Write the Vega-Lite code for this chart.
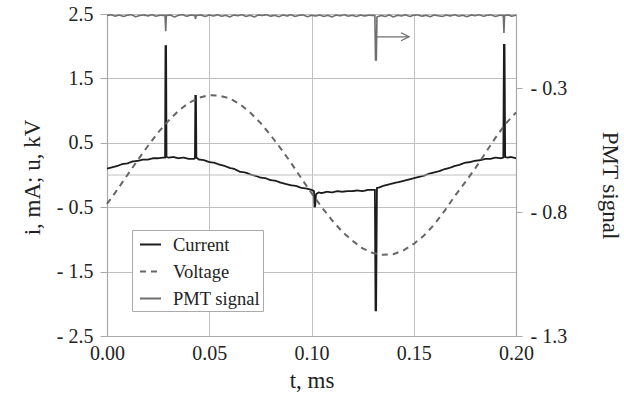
{
  "$schema": "https://vega.github.io/schema/vega-lite/v6.json",
  "width": 409,
  "height": 322,
  "autosize": {"type": "none"},
  "padding": {"left": 107, "top": 14, "right": 108, "bottom": 62},
  "background": "white",
  "config": {
    "view": {"stroke": null},
    "font": "Liberation Serif",
    "axis": {
      "labelFont": "Liberation Serif",
      "titleFont": "Liberation Serif",
      "labelFontSize": 20,
      "titleFontSize": 23,
      "labelColor": "#222222",
      "titleColor": "#222222",
      "titleFontWeight": "normal",
      "gridColor": "#c0c0c0",
      "gridWidth": 1,
      "domainColor": "#a8a8a8",
      "domainWidth": 1.2,
      "tickColor": "#a8a8a8",
      "labelFlush": false,
      "labelOverlap": false,
      "labelBound": false
    },
    "axisX": {"ticks": false, "tickSize": 0},
    "legend": {
      "orient": "none",
      "padding": 3,
      "symbolOffset": 4,
      "symbolType": "stroke",
      "symbolSize": 441,
      "symbolStrokeWidth": 2,
      "labelFont": "Liberation Serif",
      "labelFontSize": 18.5,
      "labelColor": "#222222",
      "labelOffset": 11,
      "rowPadding": 6,
      "strokeColor": "#aaaaaa",
      "fillColor": "white",
      "cornerRadius": 0
    }
  },
  "datasets": {
    "current": [
      {"t": 0.0000, "i": 0.10}, {"t": 0.0025, "i": 0.12}, {"t": 0.0050, "i": 0.14}, {"t": 0.0075, "i": 0.17},
      {"t": 0.0100, "i": 0.18}, {"t": 0.0125, "i": 0.21}, {"t": 0.0150, "i": 0.22}, {"t": 0.0175, "i": 0.24},
      {"t": 0.0200, "i": 0.24}, {"t": 0.0225, "i": 0.26}, {"t": 0.0250, "i": 0.26}, {"t": 0.0275, "i": 0.27},
      {"t": 0.0284, "i": 0.27}, {"t": 0.0286, "i": 2.00}, {"t": 0.0289, "i": 2.00}, {"t": 0.0291, "i": 0.28},
      {"t": 0.0300, "i": 0.27}, {"t": 0.0325, "i": 0.28}, {"t": 0.0350, "i": 0.26}, {"t": 0.0375, "i": 0.27},
      {"t": 0.0400, "i": 0.25}, {"t": 0.0425, "i": 0.25}, {"t": 0.0430, "i": 0.26}, {"t": 0.0432, "i": 1.23},
      {"t": 0.0435, "i": 1.23}, {"t": 0.0437, "i": 0.27}, {"t": 0.0450, "i": 0.24}, {"t": 0.0475, "i": 0.23},
      {"t": 0.0500, "i": 0.20}, {"t": 0.0525, "i": 0.19}, {"t": 0.0550, "i": 0.16}, {"t": 0.0575, "i": 0.14},
      {"t": 0.0600, "i": 0.11}, {"t": 0.0625, "i": 0.09}, {"t": 0.0650, "i": 0.05}, {"t": 0.0675, "i": 0.04},
      {"t": 0.0700, "i": 0.01}, {"t": 0.0725, "i": -0.01}, {"t": 0.0750, "i": -0.04}, {"t": 0.0775, "i": -0.05},
      {"t": 0.0800, "i": -0.08}, {"t": 0.0825, "i": -0.09}, {"t": 0.0850, "i": -0.12}, {"t": 0.0875, "i": -0.14},
      {"t": 0.0900, "i": -0.16}, {"t": 0.0925, "i": -0.17}, {"t": 0.0950, "i": -0.20}, {"t": 0.0975, "i": -0.21},
      {"t": 0.1000, "i": -0.23}, {"t": 0.1012, "i": -0.25}, {"t": 0.1015, "i": -0.50}, {"t": 0.1018, "i": -0.48},
      {"t": 0.1022, "i": -0.30}, {"t": 0.1035, "i": -0.27}, {"t": 0.1050, "i": -0.28}, {"t": 0.1075, "i": -0.26},
      {"t": 0.1100, "i": -0.27}, {"t": 0.1125, "i": -0.25}, {"t": 0.1150, "i": -0.26}, {"t": 0.1175, "i": -0.25},
      {"t": 0.1200, "i": -0.25}, {"t": 0.1225, "i": -0.24}, {"t": 0.1250, "i": -0.25}, {"t": 0.1275, "i": -0.23},
      {"t": 0.1300, "i": -0.23}, {"t": 0.1310, "i": -0.23}, {"t": 0.1313, "i": -2.10}, {"t": 0.1316, "i": -2.10},
      {"t": 0.1320, "i": -0.20}, {"t": 0.1335, "i": -0.19}, {"t": 0.1350, "i": -0.17}, {"t": 0.1375, "i": -0.15},
      {"t": 0.1400, "i": -0.13}, {"t": 0.1425, "i": -0.11}, {"t": 0.1450, "i": -0.09}, {"t": 0.1475, "i": -0.07},
      {"t": 0.1500, "i": -0.05}, {"t": 0.1525, "i": -0.03}, {"t": 0.1550, "i": -0.01}, {"t": 0.1575, "i": 0.02},
      {"t": 0.1600, "i": 0.04}, {"t": 0.1625, "i": 0.06}, {"t": 0.1650, "i": 0.09}, {"t": 0.1675, "i": 0.11},
      {"t": 0.1700, "i": 0.14}, {"t": 0.1725, "i": 0.16}, {"t": 0.1750, "i": 0.19}, {"t": 0.1775, "i": 0.20},
      {"t": 0.1800, "i": 0.22}, {"t": 0.1825, "i": 0.23}, {"t": 0.1850, "i": 0.25}, {"t": 0.1875, "i": 0.25},
      {"t": 0.1900, "i": 0.27}, {"t": 0.1925, "i": 0.26}, {"t": 0.1938, "i": 0.27}, {"t": 0.1941, "i": 2.02},
      {"t": 0.1944, "i": 2.02}, {"t": 0.1947, "i": 0.28}, {"t": 0.1960, "i": 0.27}, {"t": 0.1975, "i": 0.28},
      {"t": 0.2000, "i": 0.26}
    ],
    "voltage": [
      {"t": 0.000, "u": -0.45}, {"t": 0.005, "u": -0.23}, {"t": 0.010, "u": 0.00}, {"t": 0.015, "u": 0.23},
      {"t": 0.020, "u": 0.45}, {"t": 0.025, "u": 0.66}, {"t": 0.030, "u": 0.84}, {"t": 0.035, "u": 1.00},
      {"t": 0.040, "u": 1.12}, {"t": 0.045, "u": 1.20}, {"t": 0.050, "u": 1.24}, {"t": 0.055, "u": 1.23},
      {"t": 0.060, "u": 1.19}, {"t": 0.065, "u": 1.10}, {"t": 0.070, "u": 0.97}, {"t": 0.075, "u": 0.81},
      {"t": 0.080, "u": 0.62}, {"t": 0.085, "u": 0.41}, {"t": 0.090, "u": 0.19}, {"t": 0.095, "u": -0.05},
      {"t": 0.100, "u": -0.28}, {"t": 0.105, "u": -0.50}, {"t": 0.110, "u": -0.70}, {"t": 0.115, "u": -0.88},
      {"t": 0.120, "u": -1.02}, {"t": 0.125, "u": -1.14}, {"t": 0.130, "u": -1.21}, {"t": 0.135, "u": -1.24},
      {"t": 0.140, "u": -1.23}, {"t": 0.145, "u": -1.17}, {"t": 0.150, "u": -1.07}, {"t": 0.155, "u": -0.94},
      {"t": 0.160, "u": -0.77}, {"t": 0.165, "u": -0.56}, {"t": 0.170, "u": -0.33}, {"t": 0.175, "u": -0.12},
      {"t": 0.180, "u": 0.10}, {"t": 0.185, "u": 0.34}, {"t": 0.190, "u": 0.58}, {"t": 0.195, "u": 0.80},
      {"t": 0.200, "u": 0.97}
    ],
    "pmt": [
      {"t": 0.000, "p": -0.006}, {"t": 0.002, "p": -0.003}, {"t": 0.004, "p": -0.009}, {"t": 0.006, "p": -0.004}, {"t": 0.008, "p": -0.010},
      {"t": 0.010, "p": -0.005}, {"t": 0.012, "p": -0.003}, {"t": 0.014, "p": -0.011}, {"t": 0.016, "p": -0.006}, {"t": 0.018, "p": -0.004},
      {"t": 0.020, "p": -0.008}, {"t": 0.022, "p": -0.003}, {"t": 0.024, "p": -0.009}, {"t": 0.026, "p": -0.005}, {"t": 0.0284, "p": -0.006},
      {"t": 0.0287, "p": -0.070}, {"t": 0.0290, "p": -0.006}, {"t": 0.031, "p": -0.004}, {"t": 0.033, "p": -0.012}, {"t": 0.035, "p": -0.005},
      {"t": 0.037, "p": -0.003}, {"t": 0.039, "p": -0.009}, {"t": 0.041, "p": -0.004}, {"t": 0.0430, "p": -0.006}, {"t": 0.0433, "p": -0.020},
      {"t": 0.0436, "p": -0.006}, {"t": 0.046, "p": -0.004}, {"t": 0.048, "p": -0.010}, {"t": 0.050, "p": -0.004}, {"t": 0.052, "p": -0.008},
      {"t": 0.054, "p": -0.003}, {"t": 0.056, "p": -0.009}, {"t": 0.058, "p": -0.005}, {"t": 0.060, "p": -0.012}, {"t": 0.062, "p": -0.004},
      {"t": 0.064, "p": -0.007}, {"t": 0.066, "p": -0.003}, {"t": 0.068, "p": -0.010}, {"t": 0.070, "p": -0.005}, {"t": 0.072, "p": -0.012},
      {"t": 0.074, "p": -0.004}, {"t": 0.076, "p": -0.006}, {"t": 0.078, "p": -0.003}, {"t": 0.080, "p": -0.009}, {"t": 0.082, "p": -0.005},
      {"t": 0.084, "p": -0.011}, {"t": 0.086, "p": -0.004}, {"t": 0.088, "p": -0.008}, {"t": 0.090, "p": -0.003}, {"t": 0.092, "p": -0.010},
      {"t": 0.094, "p": -0.005}, {"t": 0.096, "p": -0.004}, {"t": 0.098, "p": -0.011}, {"t": 0.100, "p": -0.005}, {"t": 0.102, "p": -0.008},
      {"t": 0.104, "p": -0.004}, {"t": 0.106, "p": -0.010}, {"t": 0.108, "p": -0.005}, {"t": 0.110, "p": -0.012}, {"t": 0.112, "p": -0.004},
      {"t": 0.114, "p": -0.007}, {"t": 0.116, "p": -0.003}, {"t": 0.118, "p": -0.009}, {"t": 0.120, "p": -0.005}, {"t": 0.122, "p": -0.010},
      {"t": 0.124, "p": -0.004}, {"t": 0.126, "p": -0.008}, {"t": 0.128, "p": -0.005}, {"t": 0.1310, "p": -0.006}, {"t": 0.1313, "p": -0.186},
      {"t": 0.1317, "p": -0.186}, {"t": 0.1320, "p": -0.012}, {"t": 0.134, "p": -0.006}, {"t": 0.136, "p": -0.010}, {"t": 0.138, "p": -0.004},
      {"t": 0.140, "p": -0.012}, {"t": 0.142, "p": -0.005}, {"t": 0.144, "p": -0.008}, {"t": 0.146, "p": -0.003}, {"t": 0.148, "p": -0.010},
      {"t": 0.150, "p": -0.005}, {"t": 0.152, "p": -0.004}, {"t": 0.154, "p": -0.009}, {"t": 0.156, "p": -0.005}, {"t": 0.158, "p": -0.011},
      {"t": 0.160, "p": -0.004}, {"t": 0.162, "p": -0.007}, {"t": 0.164, "p": -0.010}, {"t": 0.166, "p": -0.004}, {"t": 0.168, "p": -0.008},
      {"t": 0.170, "p": -0.003}, {"t": 0.172, "p": -0.009}, {"t": 0.174, "p": -0.005}, {"t": 0.176, "p": -0.011}, {"t": 0.178, "p": -0.004},
      {"t": 0.180, "p": -0.007}, {"t": 0.182, "p": -0.003}, {"t": 0.184, "p": -0.009}, {"t": 0.186, "p": -0.005}, {"t": 0.188, "p": -0.004},
      {"t": 0.190, "p": -0.010}, {"t": 0.1920, "p": -0.005}, {"t": 0.1938, "p": -0.006}, {"t": 0.1941, "p": -0.077}, {"t": 0.1944, "p": -0.006},
      {"t": 0.196, "p": -0.004}, {"t": 0.198, "p": -0.009}, {"t": 0.200, "p": -0.005}
    ],
    "zero": [{"v": 0}],
    "arrow": [{"t0": 0.1315, "t1": 0.1477, "p": -0.092}]
  },
  "layer": [
    {
      "layer": [
        {
          "data": {"name": "current"},
          "transform": [{"calculate": "'Current'", "as": "series"}],
          "mark": {"type": "line", "strokeWidth": 1.8},
          "encoding": {
            "x": {"field": "t", "type": "quantitative", "scale": {"domain": [0, 0.2], "nice": false, "zero": false},
              "axis": {"values": [0, 0.05, 0.1, 0.15, 0.2], "format": ".2f", "grid": true, "ticks": false, "tickSize": 0,
                "labelPadding": 7, "labelFlush": false, "domain": true, "title": "t, ms", "titleBaseline": "alphabetic", "titleY": 51, "titleX": 204.5}},
            "y": {"field": "i", "type": "quantitative", "scale": {"domain": [-2.5, 2.5], "nice": false},
              "axis": {"orient": "left", "values": [-2.5, -1.5, -0.5, 0.5, 1.5, 2.5],
                "labelExpr": "datum.value < 0 ? '- ' + format(-datum.value, '.1f') : format(datum.value, '.1f')",
                "grid": true, "tickSize": 7, "labelPadding": 7, "domain": true,
                "title": "i, mA; u, kV", "titleAngle": 270, "titleBaseline": "alphabetic", "titleAlign": "center",
                "titleX": -68, "titleY": 163}},
            "color": {"field": "series", "type": "nominal",
              "scale": {"domain": ["Current", "Voltage", "PMT signal"], "range": ["#1c1c1c", "#666666", "#6e6e6e"]},
              "legend": {"title": null, "orient": "none", "legendX": 25, "legendY": 216}},
            "strokeDash": {"field": "series", "type": "nominal",
              "scale": {"domain": ["Current", "Voltage", "PMT signal"], "range": [[1, 0], [6, 5], [1, 0]]},
              "legend": {"title": null, "orient": "none", "legendX": 25, "legendY": 216}}
          }
        },
        {
          "data": {"name": "zero"},
          "mark": {"type": "rule", "color": "#c0c0c0", "strokeWidth": 1},
          "encoding": {
            "y": {"field": "v", "type": "quantitative", "scale": {"domain": [-2.5, 2.5], "nice": false}}
          }
        },
        {
          "data": {"name": "voltage"},
          "transform": [{"calculate": "'Voltage'", "as": "series"}],
          "mark": {"type": "line", "strokeWidth": 2},
          "encoding": {
            "x": {"field": "t", "type": "quantitative", "scale": {"domain": [0, 0.2], "nice": false, "zero": false}},
            "y": {"field": "u", "type": "quantitative", "scale": {"domain": [-2.5, 2.5], "nice": false}},
            "color": {"field": "series", "type": "nominal",
              "scale": {"domain": ["Current", "Voltage", "PMT signal"], "range": ["#1c1c1c", "#666666", "#6e6e6e"]}},
            "strokeDash": {"field": "series", "type": "nominal",
              "scale": {"domain": ["Current", "Voltage", "PMT signal"], "range": [[1, 0], [6, 5], [1, 0]]}}
          }
        }
      ]
    },
    {
      "layer": [
        {
          "data": {"name": "pmt"},
          "transform": [{"calculate": "'PMT signal'", "as": "series"}],
          "mark": {"type": "line", "strokeWidth": 1.6},
          "encoding": {
            "x": {"field": "t", "type": "quantitative", "scale": {"domain": [0, 0.2], "nice": false, "zero": false}},
            "y": {"field": "p", "type": "quantitative", "scale": {"domain": [-1.3, 0], "nice": false, "zero": false},
              "axis": {"orient": "right", "values": [-1.3, -0.8, -0.3],
                "labelExpr": "datum.value < 0 ? '- ' + format(-datum.value, '.1f') : format(datum.value, '.1f')",
                "grid": false, "tickSize": 6, "labelPadding": 8, "domain": true,
                "title": "PMT signal", "titleAngle": 90, "titleBaseline": "alphabetic", "titleAlign": "center",
                "titleX": 86, "titleY": 171}},
            "color": {"field": "series", "type": "nominal",
              "scale": {"domain": ["Current", "Voltage", "PMT signal"], "range": ["#1c1c1c", "#666666", "#6e6e6e"]}},
            "strokeDash": {"field": "series", "type": "nominal",
              "scale": {"domain": ["Current", "Voltage", "PMT signal"], "range": [[1, 0], [6, 5], [1, 0]]}}
          }
        },
        {
          "data": {"name": "arrow"},
          "mark": {"type": "rule", "color": "#6e6e6e", "strokeWidth": 1.3},
          "encoding": {
            "x": {"field": "t0", "type": "quantitative", "scale": {"domain": [0, 0.2], "nice": false, "zero": false}},
            "x2": {"field": "t1"},
            "y": {"field": "p", "type": "quantitative", "scale": {"domain": [-1.3, 0], "nice": false, "zero": false}}
          }
        },
        {
          "data": {"name": "arrow"},
          "mark": {"type": "point", "shape": "M-1,-0.5L0,0L-1,0.5", "filled": false, "color": "#6e6e6e", "strokeWidth": 1.3, "size": 256, "opacity": 1},
          "encoding": {
            "x": {"field": "t1", "type": "quantitative", "scale": {"domain": [0, 0.2], "nice": false, "zero": false}},
            "y": {"field": "p", "type": "quantitative", "scale": {"domain": [-1.3, 0], "nice": false, "zero": false}}
          }
        }
      ]
    }
  ],
  "resolve": {"scale": {"y": "independent"}}
}
